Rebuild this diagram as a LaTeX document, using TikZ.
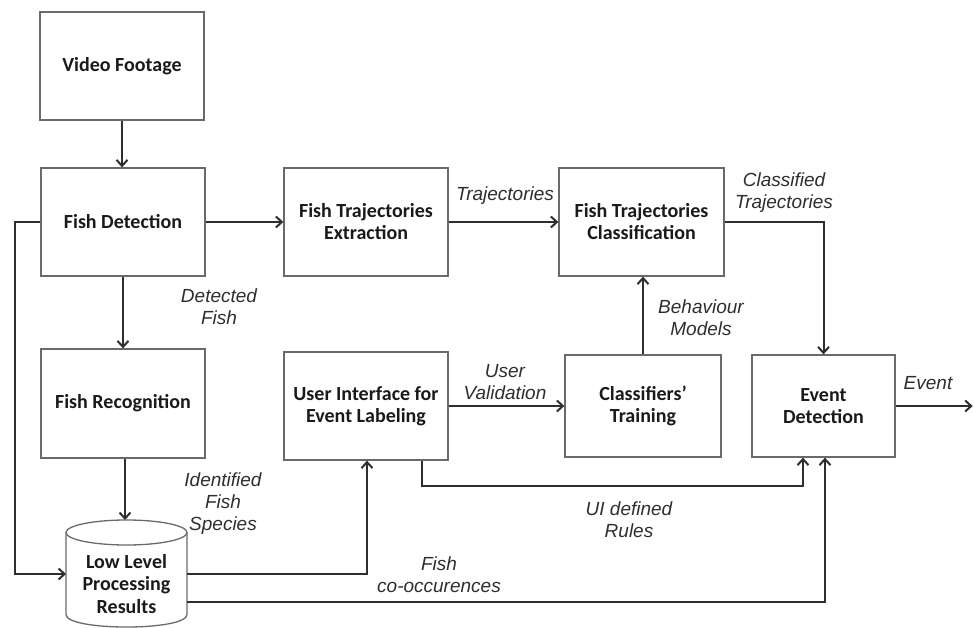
\documentclass[tikz,border=0pt]{standalone}
\usepackage{fontspec}
\usetikzlibrary{arrows.meta}
\newfontfamily\boxfont{Carlito}[BoldFont={* Bold}]
\newfontfamily\labfont{Liberation Sans}
\definecolor{boxline}{HTML}{6A6A6A}
\definecolor{arrline}{HTML}{2E2E2E}
\definecolor{txt}{HTML}{1A1A1A}
\begin{document}
\begin{tikzpicture}[x=1pt,y=-1pt,
  blk/.style={draw=boxline, line width=1.3pt, fill=white, align=center, inner sep=0pt,
    text=txt, font=\boxfont\bfseries\fontsize{20}{22}\selectfont},
  lbl/.style={align=center, inner sep=0pt, text=arrline,
    font=\labfont\itshape\fontsize{19}{22}\selectfont},
  arr/.style={draw=arrline, line width=2pt, -{Straight Barb[length=6pt,width=11pt,line width=2pt]}}
]
\useasboundingbox (0,0) rectangle (974,628);

% boxes
\node[blk, minimum width=164pt, minimum height=108pt] (vf) at (122,66) {Video Footage};
\node[blk, minimum width=164pt, minimum height=108pt] (fd) at (123,222) {Fish Detection};
\node[blk, minimum width=164pt, minimum height=109pt] (fr) at (123,403.5) {Fish Recognition};
\node[blk, minimum width=164pt, minimum height=108pt] (fte) at (366,222) {Fish Trajectories\\Extraction};
\node[blk, minimum width=165pt, minimum height=108pt] (ftc) at (641.5,222) {Fish Trajectories\\Classification};
\node[blk, minimum width=164pt, minimum height=108pt] (ui) at (366,406) {User Interface for\\Event Labeling};
\node[blk, minimum width=156pt, minimum height=102pt] (ct) at (643,406) {Classifiers’\\Training};
\node[blk, minimum width=143pt, minimum height=102pt] (ed) at (823.5,406) {Event\\Detection};

% cylinder
\draw[draw=boxline, line width=1.3pt, fill=white]
  (66,532.5) -- (66,614.5) .. controls (66,631.2) and (187,631.2) .. (187,614.5) -- (187,532.5);
\draw[draw=boxline, line width=1.3pt, fill=white] (126.5,532.5) ellipse [x radius=60.5pt, y radius=12.5pt];
\node[align=center, inner sep=0pt, text=txt, font=\boxfont\bfseries\fontsize{20}{22.5}\selectfont]
  (llp) at (126.5,584) {Low Level\\Processing\\Results};
\coordinate (cyltop) at (125,520);
\coordinate (cylw) at (66,574);
\coordinate (cyle1) at (187,574);
\coordinate (cyle2) at (187,602);

% connectors
\draw[arr] (vf.south) -- (vf.south |- fd.north);
\draw[arr] (fd.east) -- (fte.west);
\draw[arr] (fd.west) -- ++(-25,0) |- (cylw);
\draw[arr] (fd.south) -- (fr.north);
\draw[arr] (fr.south -| cyltop) -- (cyltop);
\draw[arr] (fte.east) -- (fte.east -| ftc.west);
\draw[arr] (ftc.east) -| (ed.north);
\draw[arr] (ct.north) -- (ct.north |- ftc.south);
\draw[arr] (ui.east) -- (ct.west);
\draw[arr] ([xshift=56pt]ui.south) -- ++(0,25) -| ([xshift=-20.5pt]ed.south);
\draw[arr] (cyle1) -| ([xshift=1pt]ui.south);
\draw[arr] (cyle2) -| ([xshift=1.5pt]ed.south);
\draw[arr] (ed.east) -- ++(77,0);

% labels
\node[lbl] (l1) at (219,306.5) {Detected\\Fish};
\node[lbl] (l2) at (223,503.5) {Identified\\Fish\\Species};
\node[lbl] (l3) at (505,196) {Trajectories};
\node[lbl] (l4) at (784,192.5) {Classified\\Trajectories};
\node[lbl] (l5) at (701,318) {Behaviour\\Models};
\node[lbl] (l6) at (505,382.5) {User\\Validation};
\node[lbl] (l7) at (928,383) {Event};
\node[lbl] (l8) at (629,520) {UI defined\\Rules};
\node[lbl] (l9) at (439,575) {Fish\\co-occurences};
\end{tikzpicture}
\end{document}
